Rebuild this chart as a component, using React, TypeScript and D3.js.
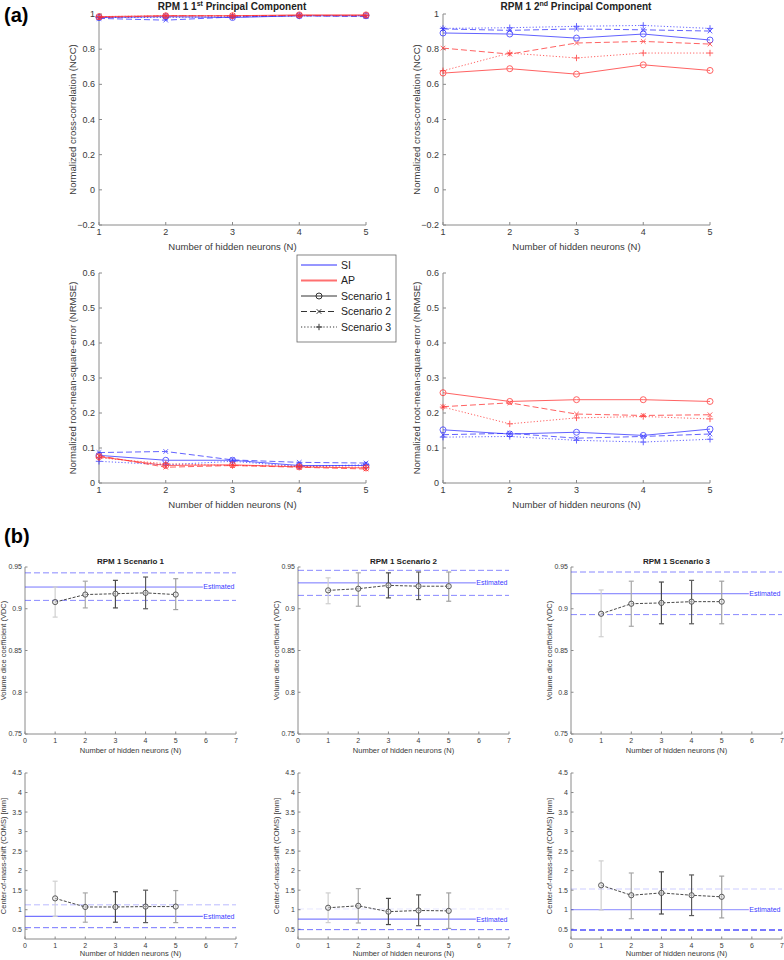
import * as d3 from "d3";

const neurons = [1, 2, 3, 4, 5];
const nccTicks = [-0.2, 0, 0.2, 0.4, 0.6, 0.8, 1];
const nrmseTicks = [0, 0.1, 0.2, 0.3, 0.4, 0.5, 0.6];
const vdcTicks = [0.75, 0.8, 0.85, 0.9, 0.95];
const comsTicks = [0.5, 1, 1.5, 2, 2.5, 3, 3.5, 4, 4.5];
const neuronAxisB = [0, 1, 2, 3, 4, 5, 6, 7];

// (a) NCC, 1st principal component
const ncc1SiS1 = [0.98, 0.985, 0.98, 0.99, 0.99];
const ncc1SiS2 = [0.975, 0.965, 0.983, 0.99, 0.985];
const ncc1SiS3 = [0.98, 0.98, 0.985, 0.99, 0.99];
const ncc1ApS1 = [0.985, 0.99, 0.99, 0.995, 0.995];
const ncc1ApS2 = [0.98, 0.99, 0.99, 0.992, 0.99];
const ncc1ApS3 = [0.985, 0.99, 0.99, 0.99, 0.992];
// (a) NCC, 2nd principal component
const ncc2SiS1 = [0.892, 0.886, 0.863, 0.886, 0.852];
const ncc2SiS2 = [0.915, 0.907, 0.915, 0.91, 0.903];
const ncc2SiS3 = [0.918, 0.922, 0.93, 0.935, 0.918];
const ncc2ApS1 = [0.664, 0.689, 0.658, 0.711, 0.679];
const ncc2ApS2 = [0.806, 0.772, 0.835, 0.844, 0.829];
const ncc2ApS3 = [0.677, 0.778, 0.75, 0.778, 0.778];
// (a) NRMSE, 1st principal component
const nrmse1SiS1 = [0.079, 0.065, 0.065, 0.05, 0.05];
const nrmse1SiS2 = [0.087, 0.09, 0.066, 0.059, 0.057];
const nrmse1SiS3 = [0.062, 0.052, 0.062, 0.047, 0.052];
const nrmse1ApS1 = [0.075, 0.05, 0.052, 0.046, 0.043];
const nrmse1ApS2 = [0.078, 0.045, 0.05, 0.045, 0.04];
const nrmse1ApS3 = [0.072, 0.055, 0.05, 0.048, 0.045];
// (a) NRMSE, 2nd principal component
const nrmse2SiS1 = [0.152, 0.14, 0.145, 0.136, 0.154];
const nrmse2SiS2 = [0.138, 0.142, 0.128, 0.133, 0.14];
const nrmse2SiS3 = [0.131, 0.133, 0.122, 0.117, 0.125];
const nrmse2ApS1 = [0.258, 0.233, 0.238, 0.238, 0.233];
const nrmse2ApS2 = [0.218, 0.229, 0.197, 0.193, 0.195];
const nrmse2ApS3 = [0.217, 0.169, 0.186, 0.19, 0.183];

// (b) VDC: mean, upper / lower error, reference [upper, estimated, lower]
const vdcMeanS1 = [0.908, 0.917, 0.918, 0.919, 0.917];
const vdcHiS1 = [0.926, 0.933, 0.934, 0.938, 0.936];
const vdcLoS1 = [0.89, 0.901, 0.901, 0.9, 0.899];
const vdcRefS1 = [0.943, 0.926, 0.91];
const vdcMeanS2 = [0.922, 0.924, 0.928, 0.927, 0.927];
const vdcHiS2 = [0.937, 0.943, 0.943, 0.944, 0.944];
const vdcLoS2 = [0.906, 0.903, 0.913, 0.911, 0.909];
const vdcRefS2 = [0.946, 0.931, 0.916];
const vdcMeanS3 = [0.894, 0.906, 0.907, 0.9085, 0.9085];
const vdcHiS3 = [0.9225, 0.933, 0.932, 0.934, 0.933];
const vdcLoS3 = [0.8665, 0.879, 0.882, 0.882, 0.882];
const vdcRefS3 = [0.944, 0.918, 0.893];
// (b) COMS
const comsMeanS1 = [1.29, 1.07, 1.07, 1.08, 1.08];
const comsHiS1 = [1.73, 1.43, 1.46, 1.5, 1.49];
const comsLoS1 = [0.83, 0.68, 0.68, 0.67, 0.67];
const comsRefS1 = [1.125, 0.83, 0.54];
const comsMeanS2 = [1.05, 1.1, 0.95, 0.98, 0.97];
const comsHiS2 = [1.43, 1.54, 1.29, 1.38, 1.43];
const comsLoS2 = [0.67, 0.66, 0.62, 0.59, 0.52];
const comsRefS2 = [1.02, 0.76, 0.49];
const comsMeanS3 = [1.625, 1.37, 1.43, 1.37, 1.33];
const comsHiS3 = [2.25, 1.94, 1.97, 1.89, 1.86];
const comsLoS3 = [0.99, 0.77, 0.89, 0.85, 0.79];
const comsRefS3 = [1.53, 1.0, 0.48];

const FONT = "'Liberation Sans', Arial, sans-serif";
const AXIS = "#8a8a8a";
const TXT = "#3a3a3a";
const unitColor = { SI: "#2f2fff", AP: "#ff2f2f" };
const dashOf = { 1: undefined, 2: "6,3", 3: "1.2,2" };
const errGray = ["#cfcfcf", "#a8a8a8", "#4a4a4a", "#5c5c5c", "#a0a0a0"];

const mk = (vals, unit, sc) => ({ vals, unit, sc });
const nccPc1 = [mk(ncc1SiS1, "SI", 1), mk(ncc1SiS2, "SI", 2), mk(ncc1SiS3, "SI", 3), mk(ncc1ApS1, "AP", 1), mk(ncc1ApS2, "AP", 2), mk(ncc1ApS3, "AP", 3)];
const nccPc2 = [mk(ncc2SiS1, "SI", 1), mk(ncc2SiS2, "SI", 2), mk(ncc2SiS3, "SI", 3), mk(ncc2ApS1, "AP", 1), mk(ncc2ApS2, "AP", 2), mk(ncc2ApS3, "AP", 3)];
const nrmsePc1 = [mk(nrmse1SiS1, "SI", 1), mk(nrmse1SiS2, "SI", 2), mk(nrmse1SiS3, "SI", 3), mk(nrmse1ApS1, "AP", 1), mk(nrmse1ApS2, "AP", 2), mk(nrmse1ApS3, "AP", 3)];
const nrmsePc2 = [mk(nrmse2SiS1, "SI", 1), mk(nrmse2SiS2, "SI", 2), mk(nrmse2SiS3, "SI", 3), mk(nrmse2ApS1, "AP", 1), mk(nrmse2ApS2, "AP", 2), mk(nrmse2ApS3, "AP", 3)];

function Marker({ cx, cy, sc, color }) {
  if (sc === 1) return <circle cx={cx} cy={cy} r={3} fill="none" stroke={color} strokeWidth={1} />;
  if (sc === 2)
    return <path d={`M${cx - 2.3},${cy - 2.3}L${cx + 2.3},${cy + 2.3}M${cx - 2.3},${cy + 2.3}L${cx + 2.3},${cy - 2.3}`} stroke={color} strokeWidth={1} />;
  return <path d={`M${cx - 3.2},${cy}L${cx + 3.2},${cy}M${cx},${cy - 3.2}L${cx},${cy + 3.2}`} stroke={color} strokeWidth={1} />;
}

function PanelA({ left, top, w, h, domain, ticks, title, ylabel, series }) {
  const x = d3.scaleLinear().domain([1, 5]).range([left, left + w]);
  const y = d3.scaleLinear().domain(domain).range([top + h, top]);
  const line = d3.line<number>().x((d, i) => x(neurons[i])).y((d) => y(d));
  const bottom = top + h;
  return (
    <g fontFamily={FONT}>
      <line x1={left} x2={left} y1={top} y2={bottom} stroke={AXIS} />
      <line x1={left} x2={left + w} y1={bottom} y2={bottom} stroke={AXIS} />
      {ticks.map((t) => (
        <g key={t}>
          <line x1={left} x2={left + 3} y1={y(t)} y2={y(t)} stroke={AXIS} />
          <text x={left - 4} y={y(t)} dy="0.35em" textAnchor="end" fontSize={9} fill={TXT}>{d3.format("~g")(t)}</text>
        </g>
      ))}
      {neurons.map((t) => (
        <g key={t}>
          <line x1={x(t)} x2={x(t)} y1={bottom} y2={bottom - 3} stroke={AXIS} />
          <text x={x(t)} y={bottom + 10} textAnchor="middle" fontSize={9} fill={TXT}>{t}</text>
        </g>
      ))}
      <text x={left + w / 2} y={bottom + 25} textAnchor="middle" fontSize={9.5} fill={TXT}>Number of hidden neurons (N)</text>
      <text transform={`translate(${left - 23},${top + h / 2}) rotate(-90)`} textAnchor="middle" fontSize={9.5} fill={TXT}>{ylabel}</text>
      {title}
      {series.map((s, i) => (
        <g key={i} opacity={0.75}>
          <path d={line(s.vals)} fill="none" stroke={unitColor[s.unit]} strokeWidth={1} strokeDasharray={dashOf[s.sc]} />
          {s.vals.map((v, j) => (
            <Marker key={j} cx={x(neurons[j])} cy={y(v)} sc={s.sc} color={unitColor[s.unit]} />
          ))}
        </g>
      ))}
    </g>
  );
}

function PanelB({ left, top, w, h, domain, ticks, title, ylabel, mean, hi, lo, refs, refAlpha, refWidth, labelDy }) {
  const x = d3.scaleLinear().domain([0, 7]).range([left, left + w]);
  const y = d3.scaleLinear().domain(domain).range([top + h, top]);
  const line = d3.line<number>().x((d, i) => x(neurons[i])).y((d) => y(d));
  const bottom = top + h;
  const [up, est, low] = refs;
  return (
    <g fontFamily={FONT}>
      <line x1={left} x2={left} y1={top} y2={bottom} stroke={AXIS} />
      <line x1={left} x2={left + w} y1={bottom} y2={bottom} stroke={AXIS} />
      {ticks.map((t) => (
        <g key={t}>
          <line x1={left} x2={left + 2.5} y1={y(t)} y2={y(t)} stroke={AXIS} />
          <text x={left - 3} y={y(t)} dy="0.35em" textAnchor="end" fontSize={7} fill={TXT}>{d3.format("~g")(t)}</text>
        </g>
      ))}
      {neuronAxisB.map((t) => (
        <g key={t}>
          <line x1={x(t)} x2={x(t)} y1={bottom} y2={bottom - 2.5} stroke={AXIS} />
          <text x={x(t)} y={bottom + 8.5} textAnchor="middle" fontSize={7} fill={TXT}>{t}</text>
        </g>
      ))}
      <text x={left + w / 2} y={bottom + labelDy} textAnchor="middle" fontSize={7.5} fill={TXT}>Number of hidden neurons (N)</text>
      <text transform={`translate(${left - 19},${top + h / 2}) rotate(-90)`} textAnchor="middle" fontSize={7.5} fill={TXT}>{ylabel}</text>
      <text x={left + w / 2} y={top - 3} textAnchor="middle" fontSize={8} fontWeight="bold" fill="#222">{title}</text>
      <line x1={x(0)} x2={x(7)} y1={y(up)} y2={y(up)} stroke="#3b3bff" strokeOpacity={refAlpha[0]} strokeWidth={refWidth[0]} strokeDasharray="6,3" />
      <line x1={x(0)} x2={x(5.9)} y1={y(est)} y2={y(est)} stroke="#3b3bff" strokeOpacity={refAlpha[1]} strokeWidth={refWidth[1]} />
      <line x1={x(0)} x2={x(7)} y1={y(low)} y2={y(low)} stroke="#3b3bff" strokeOpacity={refAlpha[2]} strokeWidth={refWidth[2]} strokeDasharray="6,3" />
      <text x={x(6.95)} y={y(est)} dy="0.35em" textAnchor="end" fontSize={7} fill="#3b3bff">Estimated</text>
      {neurons.map((n, i) => (
        <g key={n} stroke={errGray[i]} strokeWidth={1.2}>
          <line x1={x(n)} x2={x(n)} y1={y(hi[i])} y2={y(lo[i])} />
          <line x1={x(n) - 2.5} x2={x(n) + 2.5} y1={y(hi[i])} y2={y(hi[i])} />
          <line x1={x(n) - 2.5} x2={x(n) + 2.5} y1={y(lo[i])} y2={y(lo[i])} />
        </g>
      ))}
      <path d={line(mean)} fill="none" stroke="#4a4a4a" strokeWidth={1} strokeDasharray="3,1.5" />
      {mean.map((v, i) => (
        <circle key={i} cx={x(neurons[i])} cy={y(v)} r={2.6} fill="#e8e8e8" fillOpacity={0.5} stroke="#4a4a4a" strokeWidth={0.9} />
      ))}
    </g>
  );
}

function Title({ cx, y, nth, sup }) {
  return (
    <text x={cx} y={y} textAnchor="middle" fontSize={10} fontWeight="bold" fill="#222" fontFamily={FONT}>
      RPM 1 {nth}
      <tspan dy={-4} fontSize={7}>{sup}</tspan>
      <tspan dy={4}> Principal Component</tspan>
    </text>
  );
}

function Legend({ left, top }) {
  const rows = [
    { label: "SI", color: unitColor.SI, sc: 0, width: 1 },
    { label: "AP", color: "#ff7070", sc: 0, width: 2.2 },
    { label: "Scenario 1", color: "#333", sc: 1, width: 1 },
    { label: "Scenario 2", color: "#333", sc: 2, width: 1 },
    { label: "Scenario 3", color: "#333", sc: 3, width: 1 },
  ];
  return (
    <g fontFamily={FONT}>
      <rect x={left} y={top} width={99} height={87} fill="white" stroke="#666" strokeWidth={0.8} />
      {rows.map((r, i) => {
        const cy = top + 10 + i * 15.5;
        return (
          <g key={r.label}>
            <line x1={left + 4} x2={left + 40} y1={cy} y2={cy} stroke={r.color} strokeWidth={r.width} strokeDasharray={r.sc ? dashOf[r.sc] : undefined} />
            {r.sc ? <Marker cx={left + 22} cy={cy} sc={r.sc} color={r.color} /> : null}
            <text x={left + 44} y={cy} dy="0.36em" fontSize={10.5} fill="#222">{r.label}</text>
          </g>
        );
      })}
    </g>
  );
}

export default function App() {
  return (
    <svg width={784} height={960} style={{ position: "absolute", left: 0, top: 0, background: "white" }}>
      <text x={4} y={22} fontSize={20} fontWeight="bold" fontFamily={FONT}>(a)</text>
      <text x={4} y={543} fontSize={20} fontWeight="bold" fontFamily={FONT}>(b)</text>

      <PanelA left={99} top={14} w={267} h={211} domain={[-0.2, 1]} ticks={nccTicks}
        ylabel="Normalized cross-correlation (NCC)" series={nccPc1}
        title={<Title cx={232} y={10} nth="1" sup="st" />} />
      <PanelA left={443} top={14} w={267} h={211} domain={[-0.2, 1]} ticks={nccTicks}
        ylabel="Normalized cross-correlation (NCC)" series={nccPc2}
        title={<Title cx={576} y={10} nth="2" sup="nd" />} />
      <PanelA left={99} top={273} w={267} h={210} domain={[0, 0.6]} ticks={nrmseTicks}
        ylabel="Normalized root-mean-square-error (NRMSE)" series={nrmsePc1} title={null} />
      <PanelA left={443} top={273} w={267} h={210} domain={[0, 0.6]} ticks={nrmseTicks}
        ylabel="Normalized root-mean-square-error (NRMSE)" series={nrmsePc2} title={null} />
      <Legend left={297} top={255} />

      <PanelB left={25} top={567} w={211} h={167} domain={[0.75, 0.95]} ticks={vdcTicks}
        title="RPM 1 Scenario 1" ylabel="Volume dice coefficient (VDC)" labelDy={19}
        mean={vdcMeanS1} hi={vdcHiS1} lo={vdcLoS1} refs={vdcRefS1} refAlpha={[0.6, 0.7, 0.6]} refWidth={[1, 1, 1]} />
      <PanelB left={298} top={567} w={211} h={167} domain={[0.75, 0.95]} ticks={vdcTicks}
        title="RPM 1 Scenario 2" ylabel="Volume dice coefficient (VDC)" labelDy={19}
        mean={vdcMeanS2} hi={vdcHiS2} lo={vdcLoS2} refs={vdcRefS2} refAlpha={[0.6, 0.7, 0.6]} refWidth={[1, 1, 1]} />
      <PanelB left={571} top={567} w={211} h={167} domain={[0.75, 0.95]} ticks={vdcTicks}
        title="RPM 1 Scenario 3" ylabel="Volume dice coefficient (VDC)" labelDy={19}
        mean={vdcMeanS3} hi={vdcHiS3} lo={vdcLoS3} refs={vdcRefS3} refAlpha={[0.6, 0.7, 0.6]} refWidth={[1, 1, 1]} />

      <PanelB left={25} top={773} w={211} h={166} domain={[0.25, 4.5]} ticks={comsTicks}
        title="" ylabel="Center-of-mass-shift (COMS) [mm]" labelDy={17}
        mean={comsMeanS1} hi={comsHiS1} lo={comsLoS1} refs={comsRefS1} refAlpha={[0.35, 0.7, 0.7]} refWidth={[1, 1.3, 1]} />
      <PanelB left={298} top={773} w={211} h={166} domain={[0.25, 4.5]} ticks={comsTicks}
        title="" ylabel="Center-of-mass-shift (COMS) [mm]" labelDy={17}
        mean={comsMeanS2} hi={comsHiS2} lo={comsLoS2} refs={comsRefS2} refAlpha={[0.12, 0.65, 0.7]} refWidth={[1, 1.3, 1]} />
      <PanelB left={571} top={773} w={211} h={166} domain={[0.25, 4.5]} ticks={comsTicks}
        title="" ylabel="Center-of-mass-shift (COMS) [mm]" labelDy={17}
        mean={comsMeanS3} hi={comsHiS3} lo={comsLoS3} refs={comsRefS3} refAlpha={[0.25, 0.6, 0.9]} refWidth={[1, 1, 1.6]} />
    </svg>
  );
}
